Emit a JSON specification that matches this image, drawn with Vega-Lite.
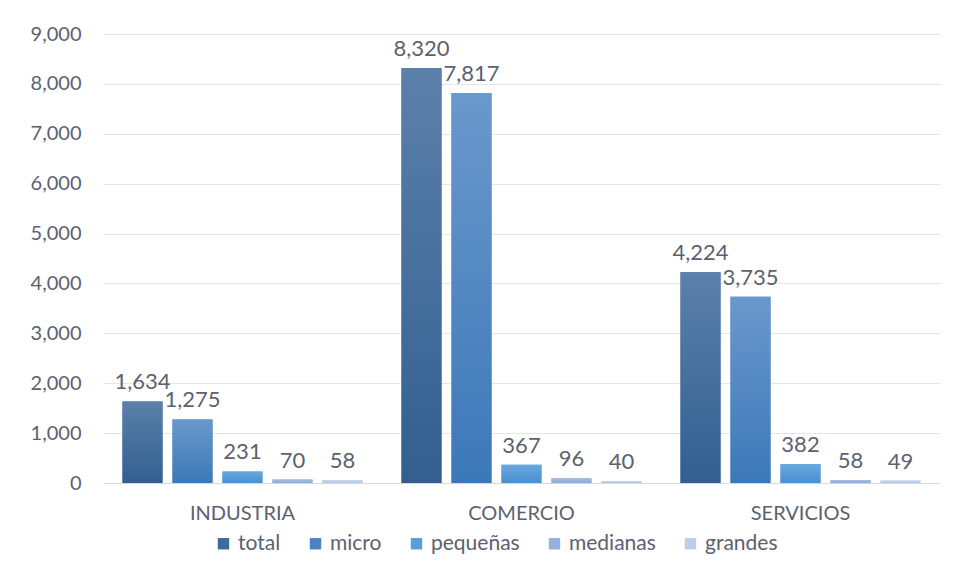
{
  "$schema": "https://vega.github.io/schema/vega-lite/v6.json",
  "width": 837,
  "height": 449,
  "autosize": {"type": "none"},
  "padding": {"left": 103, "top": 34, "right": 18, "bottom": 94},
  "background": "white",
  "config": {
    "font": "Lato",
    "view": {"stroke": null},
    "axis": {"labelFont": "Lato", "labelColor": "#5a6270", "labelFontSize": 20},
    "legend": {"labelFont": "Lato", "labelColor": "#5a6270", "labelFontSize": 21}
  },
  "data": {
    "values": [
      {"sector": "INDUSTRIA", "tamano": "total", "valor": 1634},
      {"sector": "INDUSTRIA", "tamano": "micro", "valor": 1275},
      {"sector": "INDUSTRIA", "tamano": "pequeñas", "valor": 231},
      {"sector": "INDUSTRIA", "tamano": "medianas", "valor": 70},
      {"sector": "INDUSTRIA", "tamano": "grandes", "valor": 58},
      {"sector": "COMERCIO", "tamano": "total", "valor": 8320},
      {"sector": "COMERCIO", "tamano": "micro", "valor": 7817},
      {"sector": "COMERCIO", "tamano": "pequeñas", "valor": 367},
      {"sector": "COMERCIO", "tamano": "medianas", "valor": 96},
      {"sector": "COMERCIO", "tamano": "grandes", "valor": 40},
      {"sector": "SERVICIOS", "tamano": "total", "valor": 4224},
      {"sector": "SERVICIOS", "tamano": "micro", "valor": 3735},
      {"sector": "SERVICIOS", "tamano": "pequeñas", "valor": 382},
      {"sector": "SERVICIOS", "tamano": "medianas", "valor": 58},
      {"sector": "SERVICIOS", "tamano": "grandes", "valor": 49}
    ]
  },
  "encoding": {
    "x": {
      "field": "sector", "type": "nominal",
      "sort": ["INDUSTRIA", "COMERCIO", "SERVICIOS"],
      "scale": {"paddingInner": 0, "paddingOuter": 0},
      "axis": {"title": null, "labelAngle": 0, "ticks": false, "labelPadding": 20, "domainColor": "#d9d9d9", "domainWidth": 1}
    },
    "xOffset": {
      "field": "tamano", "type": "nominal",
      "sort": ["total", "micro", "pequeñas", "medianas", "grandes"],
      "scale": {"domain": ["total", "micro", "pequeñas", "medianas", "grandes"], "paddingInner": 0.2, "paddingOuter": 0.39}
    },
    "y": {
      "field": "valor", "type": "quantitative",
      "scale": {"domain": [0, 9000], "nice": false},
      "axis": {"title": null, "values": [0,1000,2000,3000,4000,5000,6000,7000,8000,9000], "format": ",d", "ticks": false, "domain": false, "labelPadding": 22, "labelOverlap": false, "gridColor": "#e6e6e6", "gridWidth": 1}
    }
  },
  "layer": [
    {
      "mark": {"type": "bar"},
      "encoding": {
        "color": {
          "field": "tamano", "type": "nominal",
          "sort": ["total", "micro", "pequeñas", "medianas", "grandes"],
          "scale": {"range": ["#3f6a99", "#4a83c2", "#5a9dd9", "#93b2dd", "#bccfea"]},
          "legend": {"title": null, "orient": "none", "legendX": 110, "legendY": 499, "direction": "horizontal", "symbolType": "square", "symbolSize": 130, "symbolStrokeWidth": 0, "columnPadding": 24, "labelOffset": 4}
        }
      }
    },
    {
      "transform": [{"filter": "datum.tamano === 'total'"}],
      "mark": {"type": "bar", "color": {"gradient": "linear", "x1": 0, "y1": 0, "x2": 0, "y2": 1, "stops": [{"offset": 0, "color": "#5b80aa"}, {"offset": 1, "color": "#325f90"}]}},
      "encoding": {}
    },
    {
      "transform": [{"filter": "datum.tamano === 'micro'"}],
      "mark": {"type": "bar", "color": {"gradient": "linear", "x1": 0, "y1": 0, "x2": 0, "y2": 1, "stops": [{"offset": 0, "color": "#6a98cc"}, {"offset": 1, "color": "#3c78b8"}]}},
      "encoding": {}
    },
    {
      "transform": [{"filter": "datum.tamano === 'pequeñas'"}],
      "mark": {"type": "bar", "color": {"gradient": "linear", "x1": 0, "y1": 0, "x2": 0, "y2": 1, "stops": [{"offset": 0, "color": "#6aa8e0"}, {"offset": 1, "color": "#4a8fd0"}]}},
      "encoding": {}
    },
    {
      "transform": [{"filter": "datum.tamano === 'medianas'"}],
      "mark": {"type": "bar", "color": {"gradient": "linear", "x1": 0, "y1": 0, "x2": 0, "y2": 1, "stops": [{"offset": 0, "color": "#a5c0e4"}, {"offset": 1, "color": "#87a9d8"}]}},
      "encoding": {}
    },
    {
      "transform": [{"filter": "datum.tamano === 'grandes'"}],
      "mark": {"type": "bar", "color": {"gradient": "linear", "x1": 0, "y1": 0, "x2": 0, "y2": 1, "stops": [{"offset": 0, "color": "#c8d8ee"}, {"offset": 1, "color": "#b0c6e6"}]}},
      "encoding": {}
    },
    {
      "mark": {"type": "text", "baseline": "bottom", "dy": -7, "fontSize": 22, "color": "#5a6270", "font": "Lato"},
      "encoding": {
        "text": {"field": "valor", "type": "quantitative", "format": ",d"}
      }
    }
  ]
}
